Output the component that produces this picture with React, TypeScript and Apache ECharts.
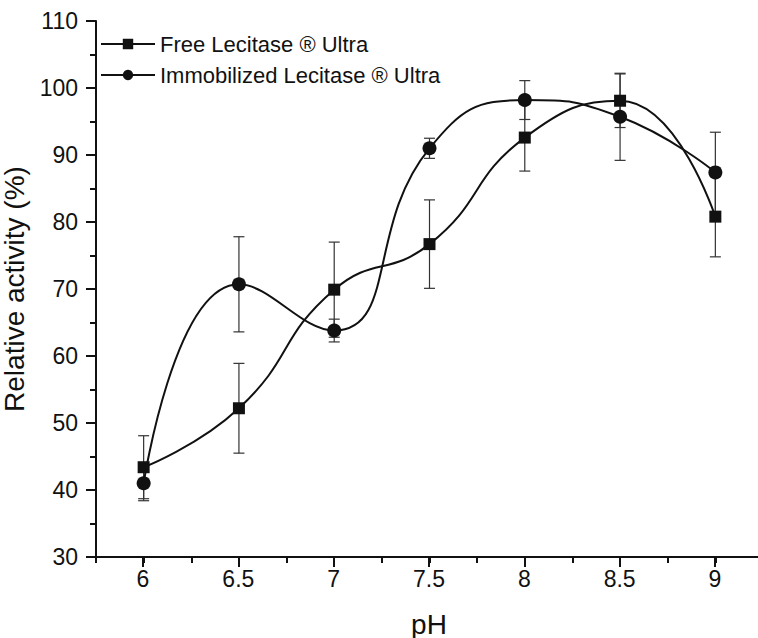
import React, { useEffect, useRef } from "react";
import * as echarts from "echarts";

const pH = [6, 6.5, 7, 7.5, 8, 8.5, 9];
const freeActivity = [43.4, 52.2, 69.9, 76.7, 92.6, 98.1, 80.8];
const freeError = [4.7, 6.7, 7.1, 6.6, 5.0, 4.0, 6.0];
const immobActivity = [41.0, 70.7, 63.8, 91.0, 98.2, 95.7, 87.4];
const immobError = [2.6, 7.1, 1.7, 1.5, 2.9, 6.5, 6.0];
const freeName = "Free Lecitase \u00AE Ultra";
const immobName = "Immobilized Lecitase \u00AE Ultra";

const FONT = "'Liberation Sans', Arial, sans-serif";

export default function App() {
  const ref = useRef<HTMLDivElement>(null);
  useEffect(() => {
    if (!ref.current) return;
    const chart = echarts.init(ref.current, null, { renderer: "svg" });
    const errData = (vals: number[], errs: number[]) =>
      pH.map((x, i) => [x, vals[i] - errs[i], vals[i] + errs[i]]);
    const errRender = (params: any, api: any) => {
      const x = api.value(0);
      const lo = api.value(1);
      const hi = api.value(2);
      const p1 = api.coord([x, hi]);
      const p2 = api.coord([x, lo]);
      const hw = 5.5;
      const style = { stroke: "#333", lineWidth: 1.2 };
      return {
        type: "group",
        children: [
          { type: "line", shape: { x1: p1[0], y1: p1[1], x2: p2[0], y2: p2[1] }, style },
          { type: "line", shape: { x1: p1[0] - hw, y1: p1[1], x2: p1[0] + hw, y2: p1[1] }, style },
          { type: "line", shape: { x1: p2[0] - hw, y1: p2[1], x2: p2[0] + hw, y2: p2[1] }, style },
        ],
      };
    };
    const top = 21;
    const bottom = 81;
    chart.setOption({
      animation: false,
      backgroundColor: "#fff",
      textStyle: { fontFamily: FONT },
      grid: [
        { left: 96, right: -5, top, bottom, containLabel: false, outerBoundsMode: "none" },
        { left: 143, right: 43, top, bottom, containLabel: false, outerBoundsMode: "none" },
      ],
      legend: {
        data: [freeName, immobName],
        orient: "vertical",
        left: 100,
        top: 33,
        padding: 0,
        itemWidth: 54,
        itemHeight: 13,
        itemGap: 9,
        textStyle: { fontFamily: FONT, fontSize: 22, lineHeight: 22, color: "#111" },
      },
      xAxis: [
        {
          type: "value",
          gridIndex: 0,
          min: 5.75,
          max: 9.25,
          interval: 0.25,
          axisLine: { show: true, onZero: false, lineStyle: { color: "#111", width: 2 } },
          axisTick: { show: true, length: 6, lineStyle: { color: "#111", width: 2 } },
          axisLabel: { show: false },
          splitLine: { show: false },
        },
        {
          type: "value",
          gridIndex: 1,
          min: 6,
          max: 9,
          interval: 0.5,
          name: "pH",
          nameLocation: "middle",
          nameGap: 53,
          nameTextStyle: { fontFamily: FONT, fontSize: 28, color: "#111" },
          axisLine: { show: false },
          axisTick: { show: true, length: 10, lineStyle: { color: "#111", width: 2 } },
          axisLabel: { fontFamily: FONT, fontSize: 23, color: "#111", margin: 10 },
          splitLine: { show: false },
        },
      ],
      yAxis: [
        {
          type: "value",
          gridIndex: 0,
          min: 30,
          max: 110,
          interval: 10,
          name: "Relative activity (%)",
          nameLocation: "middle",
          nameGap: 58,
          nameTextStyle: { fontFamily: FONT, fontSize: 28, color: "#111" },
          axisLine: { show: true, onZero: false, lineStyle: { color: "#111", width: 2 } },
          axisTick: { show: true, length: 10, lineStyle: { color: "#111", width: 2 } },
          minorTick: { show: true, splitNumber: 2, length: 6, lineStyle: { color: "#111", width: 2 } },
          axisLabel: { fontFamily: FONT, fontSize: 23, color: "#111", margin: 18 },
          splitLine: { show: false },
          minorSplitLine: { show: false },
        },
        {
          type: "value",
          gridIndex: 1,
          min: 30,
          max: 110,
          show: false,
        },
      ],
      series: [
        {
          name: "freeErr",
          type: "custom",
          xAxisIndex: 0,
          yAxisIndex: 0,
          renderItem: errRender,
          encode: { x: 0, y: [1, 2] },
          data: errData(freeActivity, freeError),
          z: 1,
        },
        {
          name: "immobErr",
          type: "custom",
          xAxisIndex: 0,
          yAxisIndex: 0,
          renderItem: errRender,
          encode: { x: 0, y: [1, 2] },
          data: errData(immobActivity, immobError),
          z: 1,
        },
        {
          name: freeName,
          type: "line",
          xAxisIndex: 0,
          yAxisIndex: 0,
          smooth: 0.5,
          symbol: "rect",
          symbolSize: 12,
          data: pH.map((x, i) => [x, freeActivity[i]]),
          lineStyle: { color: "#111", width: 2 },
          itemStyle: { color: "#111" },
          z: 3,
        },
        {
          name: immobName,
          type: "line",
          xAxisIndex: 0,
          yAxisIndex: 0,
          smooth: 0.5,
          symbol: "circle",
          symbolSize: 14,
          data: pH.map((x, i) => [x, immobActivity[i]]),
          lineStyle: { color: "#111", width: 2 },
          itemStyle: { color: "#111" },
          z: 3,
        },
      ],
    });
    return () => chart.dispose();
  }, []);
  return (
    <div
      ref={ref}
      style={{ position: "fixed", left: 0, top: 0, width: 758, height: 638, background: "#fff" }}
    />
  );
}
